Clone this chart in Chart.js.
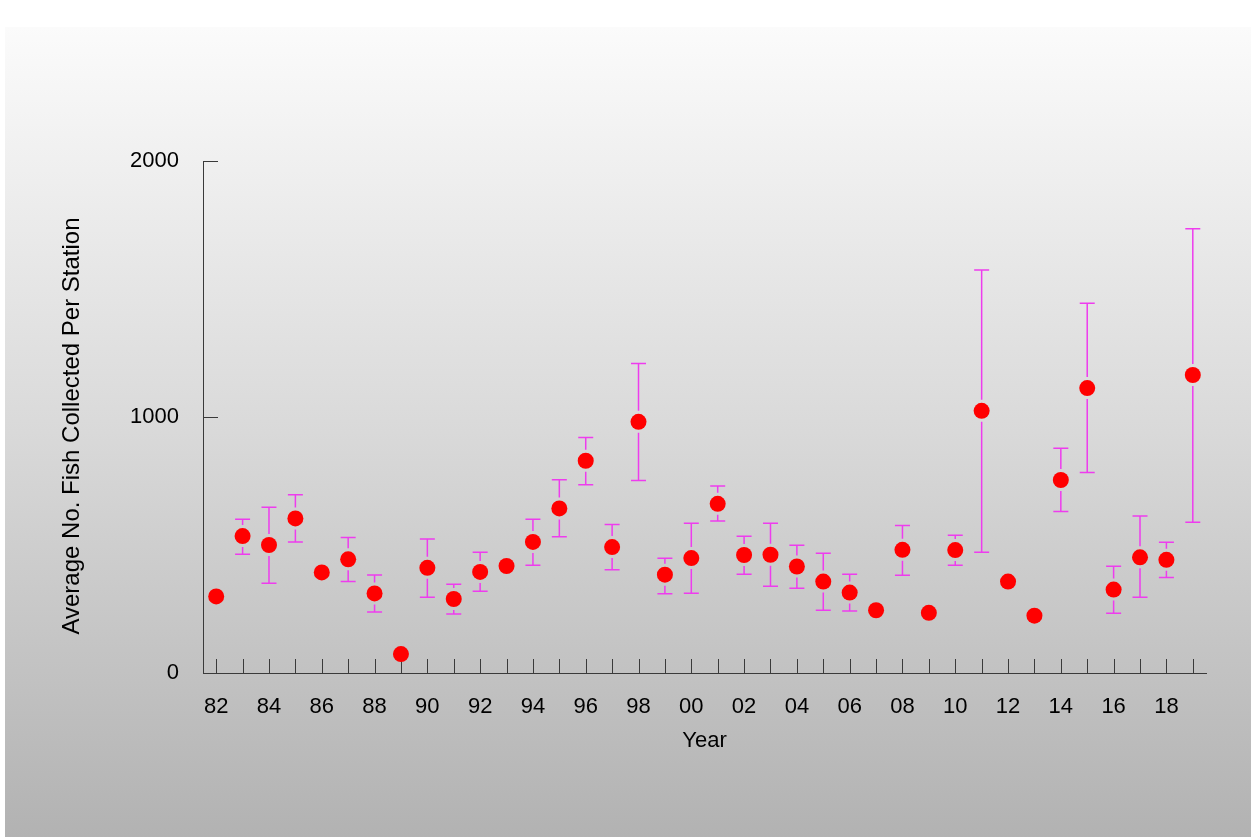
<!DOCTYPE html>
<html>
<head>
<meta charset="utf-8">
<script src="https://cdn.jsdelivr.net/npm/chart.js@4/dist/chart.umd.min.js"></script>
<style>
html,body{margin:0;padding:0;background:#fff;}
#wrap{width:1251px;height:837px;position:relative;}
</style>
</head>
<body>
<div id="wrap"><canvas id="c" width="1251" height="837"></canvas></div>
<script>
// ---- data ----
const years = [1982,1983,1984,1985,1986,1987,1988,1989,1990,1991,1992,1993,1994,1995,1996,1997,1998,1999,2000,2001,2002,2003,2004,2005,2006,2007,2008,2009,2010,2011,2012,2013,2014,2015,2016,2017,2018,2019];
const meanValues = [299,535,500,604,393,444,311,74,411,289,395,418,512,643,829,492,981,384,449,661,461,462,416,357,314,245,481,235,480,1024,357,224,754,1113,326,452,442,1164];
const upperValues = [null,601,647,696,null,529,383,null,523,347,472,null,601,755,920,580,1209,448,585,730,534,585,499,468,386,null,576,null,538,1574,null,null,878,1444,417,613,511,1735];
const lowerValues = [null,464,351,512,null,357,238,null,296,230,319,null,421,532,735,403,752,310,312,594,386,339,331,245,242,null,382,null,421,472,null,null,631,783,233,296,373,589];
const yTickValues = [0,1000,2000];
const xLabelYears = [1982,1984,1986,1988,1990,1992,1994,1996,1998,2000,2002,2004,2006,2008,2010,2012,2014,2016,2018];
const yAxisTitle = 'Average No. Fish Collected Per Station';
const xAxisTitle = 'Year';

const points = years.map((y,i)=>({x:y, y:meanValues[i]}));
const fontFam = "'Liberation Sans', Arial, sans-serif";

const bgPlugin = {
  id:'bg',
  beforeDraw(chart){
    const ctx = chart.ctx, W = chart.width, H = chart.height;
    ctx.save();
    ctx.fillStyle = '#ffffff';
    ctx.fillRect(0,0,W,H);
    const g = ctx.createLinearGradient(0,27,0,H);
    g.addColorStop(0,'#fbfbfb');
    g.addColorStop(0.5,'#d9d9d9');
    g.addColorStop(1,'#b2b2b2');
    ctx.fillStyle = g;
    ctx.fillRect(5,27,W-5,H-27);
    ctx.restore();
  }
};

const tickPlugin = {
  id:'innerTicks',
  beforeDatasetsDraw(chart){
    const ctx = chart.ctx, xs = chart.scales.x, ys = chart.scales.y;
    const a = chart.chartArea;
    ctx.save();
    ctx.strokeStyle = '#3a3a3a';
    ctx.lineWidth = 1;
    ctx.beginPath();
    years.forEach(yr=>{
      const px = Math.round(xs.getPixelForValue(yr))+0.5;
      ctx.moveTo(px, a.bottom);
      ctx.lineTo(px, a.bottom-14);
    });
    yTickValues.forEach(v=>{
      if (v===0) return;
      const py = Math.round(ys.getPixelForValue(v))+0.5;
      ctx.moveTo(a.left, py);
      ctx.lineTo(a.left+15, py);
    });
    ctx.stroke();
    // error bars
    ctx.strokeStyle = '#ee3cee';
    ctx.lineWidth = 1.5;
    const gap = 11, cap = 7.5;
    years.forEach((yr,i)=>{
      if (upperValues[i]==null) return;
      const px = xs.getPixelForValue(yr);
      const pm = ys.getPixelForValue(meanValues[i]);
      const pu = ys.getPixelForValue(upperValues[i]);
      const pl = ys.getPixelForValue(lowerValues[i]);
      ctx.beginPath();
      if (pm - gap > pu) { ctx.moveTo(px, pm-gap); ctx.lineTo(px, pu); }
      if (pm + gap < pl) { ctx.moveTo(px, pm+gap); ctx.lineTo(px, pl); }
      ctx.moveTo(px-cap, pu); ctx.lineTo(px+cap, pu);
      ctx.moveTo(px-cap, pl); ctx.lineTo(px+cap, pl);
      ctx.stroke();
    });
    ctx.restore();
  },
  afterDraw(chart){
    // y-axis title (rotated), placed slightly below the axis centre as in the reference
    const ctx = chart.ctx, a = chart.chartArea;
    ctx.save();
    ctx.translate(72, (a.top + a.bottom)/2 + 9);
    ctx.rotate(-Math.PI/2);
    ctx.fillStyle = '#000';
    ctx.font = "24px " + fontFam;
    ctx.textAlign = 'center';
    ctx.textBaseline = 'middle';
    ctx.fillText(yAxisTitle, 0, 0);
    ctx.restore();
  }
};

new Chart(document.getElementById('c'), {
  type:'scatter',
  data:{ datasets:[{
    data: points,
    backgroundColor:'#ff0000',
    borderColor:'#ff0000',
    borderWidth:0,
    pointRadius:8,
    pointHoverRadius:8,
    showLine:false
  }]},
  options:{
    responsive:false,
    animation:false,
    devicePixelRatio:1,
    layout:{padding:{left:0,right:45,top:161,bottom:0}},
    plugins:{legend:{display:false},tooltip:{enabled:false}},
    scales:{
      x:{
        type:'linear', min:1981.5, max:2019.5,
        grid:{display:false, drawTicks:false},
        border:{display:true,color:'#3a3a3a',width:1},
        afterBuildTicks(s){ s.ticks = xLabelYears.map(v=>({value:v})); },
        ticks:{
          autoSkip:false, maxRotation:0, minRotation:0,
          padding:21, color:'#000',
          font:{family:fontFam,size:22},
          callback:(v)=> String(v%100).padStart(2,'0')
        },
        title:{display:true,text:xAxisTitle,color:'#000',font:{family:fontFam,size:22},padding:{top:0,bottom:83}},
        afterFit(s){ s.height = 164; }
      },
      y:{
        type:'linear', min:0, max:2000,
        grid:{display:false, drawTicks:false},
        border:{display:true,color:'#3a3a3a',width:1},
        afterBuildTicks(s){ s.ticks = yTickValues.map(v=>({value:v})); },
        ticks:{padding:24,color:'#000',font:{family:fontFam,size:22},callback:(v)=>String(v)},
        title:{display:false},
        afterFit(s){ s.width = 203; }
      }
    }
  },
  plugins:[bgPlugin,tickPlugin]
});
</script>
</body>
</html>
